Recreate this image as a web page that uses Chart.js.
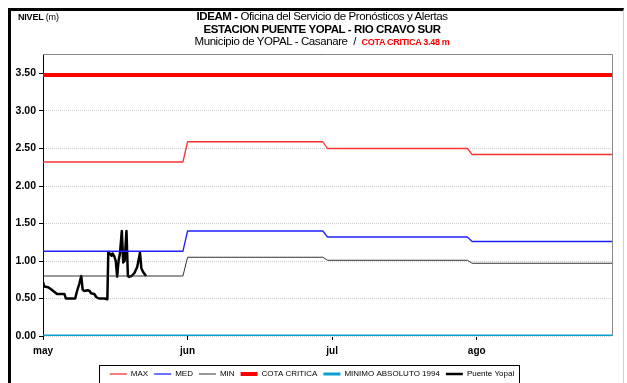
<!DOCTYPE html>
<html>
<head>
<meta charset="utf-8">
<script src="https://cdn.jsdelivr.net/npm/chart.js@4.4.1/dist/chart.umd.min.js"></script>
<style>
  html, body { margin: 0; padding: 0; background: #fff; overflow: hidden; }
  #marco { position: absolute; left: 8px; top: 8px; width: 612px; height: 400px;
           border-left: 3px solid #000; border-top: 3px solid #000; border-right: 1px solid #d0d0d0; }
  #grafico { position: absolute; left: 0; top: 0; width: 627px; height: 388px; }
  .txt { position: absolute; font-family: "Liberation Sans", Arial, sans-serif; color: #000; white-space: nowrap; }
  #nivel { left: 18px; top: 12px; font-size: 9px; letter-spacing: -0.2px; }
  #titulo { left: 0; width: 644px; top: 10px; text-align: center; font-size: 11.5px; line-height: 12.5px; letter-spacing: -0.4px; }
  #titulo b { font-weight: bold; }
  .rojo { color: #ff0000; font-weight: bold; font-size: 9px; letter-spacing: -0.3px; }
</style>
</head>
<body>
<div id="marco"></div>
<div id="grafico"><canvas id="nivelChart" width="627" height="388"></canvas></div>
<div class="txt" id="nivel"><b>NIVEL</b> (m)</div>
<div class="txt" id="titulo">
  <b>IDEAM -</b> Oficina del Servicio de Pronósticos y Alertas<br>
  <b>ESTACION PUENTE YOPAL - RIO CRAVO SUR</b><br>
  Municipio de YOPAL - Casanare &nbsp;/&nbsp; <span class="rojo">COTA CRITICA 3.48 m</span>
</div>
<script>
// dias contados desde el 1 de mayo
var meses = ["may", "jun", "jul", "ago"];
var diasEje = [0, 31, 62, 93];
var inicioMes = [0, 31, 61, 92];
var finMes = [30, 60, 91, 122];

// niveles historicos mensuales (m)
var nivelMax = [2.32, 2.59, 2.50, 2.42];
var nivelMed = [1.13, 1.40, 1.32, 1.26];
var nivelMin = [0.80, 1.05, 1.01, 0.97];
var cotaCritica = 3.48;
var minimoAbsoluto = 0.0;

// lecturas estacion Puente Yopal
var yopalDia = [0.0, 0.3, 1.1, 1.8, 2.6, 3.0, 4.6, 4.9, 6.9, 7.3, 7.8, 8.2, 8.5, 8.8, 9.6, 10.0, 10.3, 11.0, 11.4, 12.0,
  13.2, 13.8, 14.0, 14.3, 14.7, 14.9, 15.3, 15.6, 15.9, 16.2, 16.5, 16.9, 17.2, 17.5, 17.9, 18.2, 18.4, 19.0, 19.6,
  20.2, 20.8, 21.1, 21.5, 22.1];
var yopalNivel = [0.72, 0.66, 0.65, 0.62, 0.58, 0.56, 0.56, 0.50, 0.50, 0.60, 0.70, 0.80, 0.62, 0.60, 0.61, 0.60, 0.57, 0.56, 0.52, 0.50,
  0.50, 0.49, 1.12, 1.10, 1.07, 1.10, 1.06, 1.00, 0.79, 1.00, 1.10, 1.40, 0.98, 1.00, 1.40, 0.80, 0.79, 0.80, 0.84,
  0.92, 1.11, 0.90, 0.85, 0.80];

var ticksY = [0, 0.5, 1.0, 1.5, 2.0, 2.5, 3.0, 3.5];

function escalon(valores) {
  var pts = [];
  valores.forEach(function(v, i) {
    pts.push({x: inicioMes[i], y: v});
    pts.push({x: finMes[i], y: v});
  });
  return pts;
}

function constante(v) {
  return [{x: inicioMes[0], y: v}, {x: finMes[finMes.length - 1], y: v}];
}

var puntosYopal = yopalDia.map(function(d, i) { return {x: d, y: yopalNivel[i]}; });

// marco gris arriba/derecha del area de trazado y recuadro de la leyenda
var marcos = {
  id: "marcos",
  beforeDatasetsDraw: function(chart) {
    var a = chart.chartArea, ctx = chart.ctx;
    ctx.save();
    ctx.strokeStyle = "#888";
    ctx.lineWidth = 1;
    ctx.beginPath();
    ctx.moveTo(a.left, a.top + 0.5);
    ctx.lineTo(a.right + 0.5, a.top + 0.5);
    ctx.lineTo(a.right + 0.5, a.bottom);
    ctx.stroke();
    ctx.restore();
  },
  afterDraw: function(chart) {
    var cajas = chart.legend.legendHitBoxes;
    if (!cajas || !cajas.length) return;
    var izq = cajas[0].left, der = 0, arr = cajas[0].top;
    cajas.forEach(function(c) {
      izq = Math.min(izq, c.left);
      der = Math.max(der, c.left + c.width);
      arr = Math.min(arr, c.top);
    });
    var ctx = chart.ctx;
    ctx.save();
    ctx.strokeStyle = "#000";
    ctx.lineWidth = 1;
    ctx.strokeRect(Math.round(izq - 11) + 0.5, Math.round(arr - 5) + 0.5, Math.round(der - izq + 16), 18);
    ctx.restore();
  }
};

Chart.defaults.font.family = "'Liberation Sans', Arial, sans-serif";
Chart.defaults.color = "#000";

var ctx = document.getElementById("nivelChart").getContext("2d");
var grafico = new Chart(ctx, {
  type: "line",
  data: {
    datasets: [
      { label: "MAX", data: escalon(nivelMax), borderColor: "#ff3030", borderWidth: 1.3 },
      { label: "MED", data: escalon(nivelMed), borderColor: "#2020ff", borderWidth: 1.3 },
      { label: "MIN", data: escalon(nivelMin), borderColor: "#333333", borderWidth: 1 },
      { label: "COTA CRITICA", data: constante(cotaCritica), borderColor: "#ff0000", borderWidth: 4 },
      { label: "MINIMO ABSOLUTO 1994", data: constante(minimoAbsoluto), borderColor: "#0a9fd0", borderWidth: 3 },
      { label: "Puente Yopal", data: puntosYopal, borderColor: "#000000", borderWidth: 2.5 }
    ]
  },
  options: {
    responsive: false,
    animation: false,
    parsing: false,
    layout: { padding: { left: 12, top: 54, right: 15, bottom: 0 } },
    elements: {
      point: { radius: 0, hoverRadius: 0 },
      line: { tension: 0, fill: false, borderJoinStyle: "round" }
    },
    plugins: {
      tooltip: { enabled: false },
      legend: {
        position: "bottom",
        labels: {
          usePointStyle: true,
          pointStyleWidth: 17,
          padding: 6,
          font: { size: 8 },
          generateLabels: function(chart) {
            return chart.data.datasets.map(function(ds, i) {
              return {
                text: ds.label,
                strokeStyle: ds.borderColor,
                fillStyle: ds.borderColor,
                lineWidth: ds.borderWidth,
                pointStyle: "line",
                datasetIndex: i,
                hidden: false,
                fontColor: "#000"
              };
            });
          }
        }
      }
    },
    scales: {
      x: {
        type: "linear",
        min: 0,
        max: finMes[finMes.length - 1],
        afterBuildTicks: function(s) { s.ticks = diasEje.map(function(d) { return {value: d}; }); },
        afterFit: function(s) { s.height = 28; },
        ticks: {
          padding: 5,
          maxRotation: 0,
          font: { size: 10, weight: "bold" },
          callback: function(v, i) { return meses[i]; }
        },
        grid: { drawOnChartArea: false, drawTicks: true, tickLength: 4, tickColor: "#000", color: "#000" },
        border: { display: false }
      },
      y: {
        min: 0,
        max: 3.76,
        afterBuildTicks: function(s) { s.ticks = ticksY.map(function(v) { return {value: v}; }); },
        afterFit: function(s) { s.width = 31; },
        ticks: {
          padding: 3,
          font: { size: 10.5, weight: "bold" },
          callback: function(v) { return v.toFixed(2); }
        },
        grid: { color: "#cfcfcf", lineWidth: 1, tickLength: 4, tickColor: "#000" },
        border: { display: true, color: "#000", width: 1, dash: [1, 1] }
      }
    }
  },
  plugins: [marcos]
});
</script>
</body>
</html>
